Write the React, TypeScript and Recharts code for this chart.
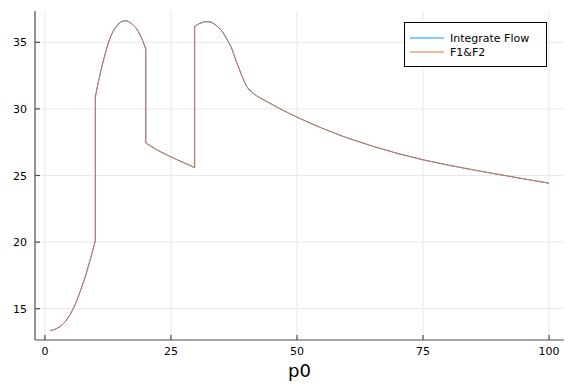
import { CartesianGrid, Line, LineChart, XAxis, YAxis } from 'recharts';

const p0 = [
  1, 2, 3, 4, 5, 6, 7, 8, 9, 10,
  10, 10.5, 11, 11.5, 12, 12.5, 13, 13.5, 14, 14.5, 15, 15.5, 16, 16.5, 17, 17.5, 18, 18.5, 19, 19.5, 20,
  20, 21, 22, 23, 24, 25, 26, 27, 28, 29, 29.7,
  29.7, 30.5, 31, 31.5, 32, 32.5, 33, 33.5, 34, 34.5, 35, 35.5, 36, 36.5, 37, 37.5, 38, 38.5, 39, 39.5, 40, 40.5,
  41, 42, 43, 44, 45, 46, 47, 48, 50, 52, 55, 58, 60, 65, 70, 75, 80, 85, 90, 95, 100,
];

const integrateFlow = [
  13.35, 13.45, 13.65, 14.0, 14.55, 15.3, 16.3, 17.4, 18.7, 20.1,
  30.9, 31.85, 32.7, 33.5, 34.2, 34.85, 35.4, 35.8, 36.1, 36.35, 36.5, 36.6, 36.62, 36.58, 36.45, 36.3, 36.1, 35.82, 35.45, 35.02, 34.5,
  27.45, 27.2, 26.98, 26.77, 26.58, 26.4, 26.22, 26.05, 25.88, 25.72, 25.58,
  36.2, 36.38, 36.45, 36.52, 36.55, 36.54, 36.5, 36.4, 36.25, 36.1, 35.9, 35.62, 35.3, 34.96, 34.6, 34.08, 33.5, 33.05, 32.55, 32.1, 31.7, 31.42,
  31.25, 30.98, 30.76, 30.55, 30.35, 30.14, 29.94, 29.75, 29.38, 29.04, 28.55, 28.1, 27.82, 27.2, 26.65, 26.18, 25.78, 25.42, 25.08, 24.75, 24.42,
];

const f1f2 = [
  13.35, 13.45, 13.65, 14.0, 14.55, 15.3, 16.3, 17.4, 18.7, 20.1,
  30.9, 31.85, 32.7, 33.5, 34.2, 34.85, 35.4, 35.8, 36.1, 36.35, 36.5, 36.6, 36.62, 36.58, 36.45, 36.3, 36.1, 35.82, 35.45, 35.02, 34.5,
  27.45, 27.2, 26.98, 26.77, 26.58, 26.4, 26.22, 26.05, 25.88, 25.72, 25.58,
  36.2, 36.38, 36.45, 36.52, 36.55, 36.54, 36.5, 36.4, 36.25, 36.1, 35.9, 35.62, 35.3, 34.96, 34.6, 34.08, 33.5, 33.05, 32.55, 32.1, 31.7, 31.48,
  31.25, 30.98, 30.76, 30.55, 30.35, 30.14, 29.94, 29.75, 29.38, 29.04, 28.55, 28.1, 27.82, 27.2, 26.65, 26.18, 25.78, 25.42, 25.08, 24.75, 24.42,
];

const xTicks = [0, 25, 50, 75, 100];
const yTicks = [15, 20, 25, 30, 35];
const seriesNames = ['Integrate Flow', 'F1&F2'];
const seriesColors = ['#009AFA', '#E36F47'];

const data = p0.map((p, i) => ({ p0: p, integrate: integrateFlow[i], f1f2: f1f2[i] }));

const font = '"DejaVu Sans", sans-serif';
const axisColor = '#4d4d4d';

function XTick(props: any) {
  const { x, y, payload } = props;
  return (
    <g>
      <line x1={x} y1={y} x2={x} y2={y - 5} stroke={axisColor} strokeWidth={1.2} />
      <text x={x} y={y + 15} textAnchor="middle" fontSize={11} fontFamily={font} fill="#000">
        {payload.value}
      </text>
    </g>
  );
}

function YTick(props: any) {
  const { x, y, payload } = props;
  return (
    <g>
      <line x1={x} y1={y} x2={x + 5} y2={y} stroke={axisColor} strokeWidth={1.2} />
      <text x={x - 8} y={y + 4} textAnchor="end" fontSize={11} fontFamily={font} fill="#000">
        {payload.value}
      </text>
    </g>
  );
}

function XLabel(props: any) {
  const vb = props.viewBox;
  return (
    <text x={vb.x + vb.width / 2} y={vb.y + 37} textAnchor="middle" fontSize={18} fontFamily={font} fill="#000">
      p0
    </text>
  );
}

function LegendBox() {
  return (
    <svg width={144} height={46} style={{ position: 'absolute', left: 404, top: 22 }}>
      <rect x={0.5} y={0.5} width={142} height={44} fill="#fff" stroke="#000" strokeWidth={1} />
      {seriesNames.map((name, i) => (
        <g key={name}>
          <line x1={6} x2={40} y1={16 + i * 14} y2={16 + i * 14} stroke={seriesColors[i]} strokeWidth={1} />
          <text x={46} y={20 + i * 14} fontSize={11} fontFamily={font} fill="#000">
            {name}
          </text>
        </g>
      ))}
    </svg>
  );
}

export default function App() {
  return (
    <div style={{ position: 'absolute', left: 0, top: 0, width: 576, height: 384, background: '#fff' }}>
      <LineChart width={576} height={384} data={data} margin={{ top: 11, right: 12, left: 0, bottom: 0 }}>
        <CartesianGrid stroke="#e8e8e8" strokeWidth={1} horizontalValues={yTicks} verticalValues={xTicks} />
        <XAxis
          dataKey="p0"
          type="number"
          domain={[-1.97, 102.97]}
          ticks={xTicks}
          height={44}
          tickSize={0}
          tickMargin={0}
          tick={<XTick />}
          tickLine={false}
          stroke={axisColor}
          strokeWidth={1.2}
          allowDataOverflow
          label={<XLabel />}
        />
        <YAxis
          type="number"
          domain={[12.65, 37.35]}
          ticks={yTicks}
          width={35}
          tickSize={0}
          tickMargin={0}
          tick={<YTick />}
          tickLine={false}
          stroke={axisColor}
          strokeWidth={1.2}
          allowDataOverflow
        />
        <Line dataKey="integrate" name={seriesNames[0]} type="linear" stroke={seriesColors[0]} strokeWidth={1} dot={false} isAnimationActive={false} />
        <Line dataKey="f1f2" name={seriesNames[1]} type="linear" stroke={seriesColors[1]} strokeWidth={1} dot={false} isAnimationActive={false} />
      </LineChart>
      <LegendBox />
    </div>
  );
}
